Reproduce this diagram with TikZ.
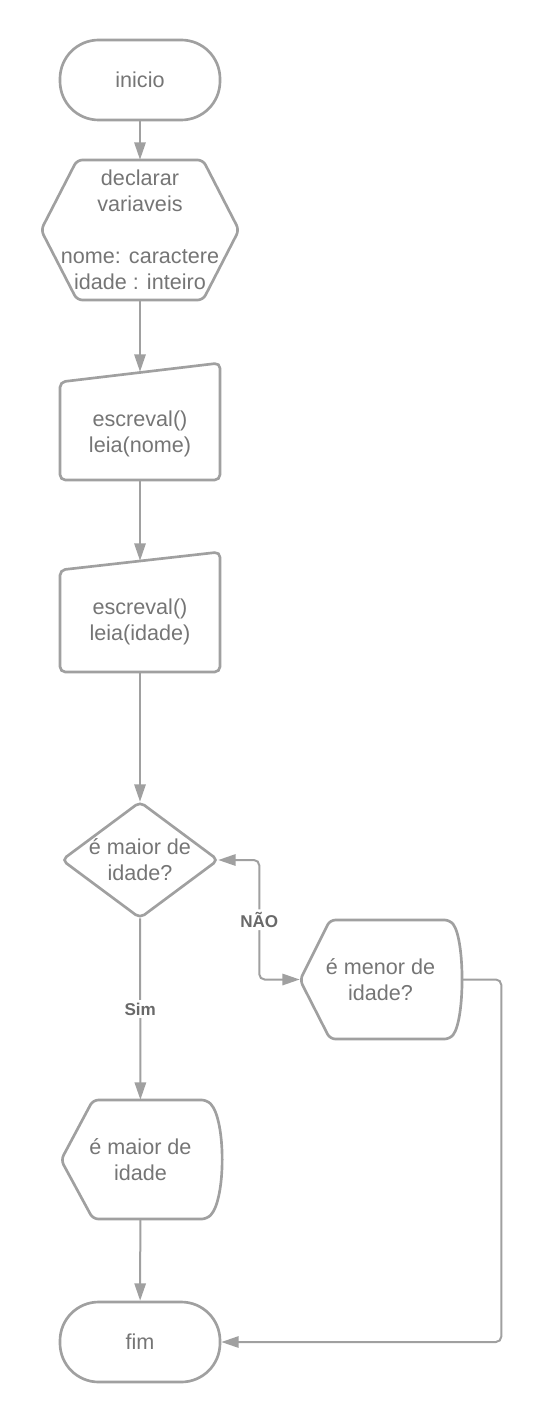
\documentclass[tikz,border=0pt]{standalone}
\usepackage{fontspec}
\setmainfont{Liberation Sans}
\usetikzlibrary{arrows.meta}
\definecolor{linegray}{RGB}{160,160,160}
\definecolor{txtgray}{RGB}{117,117,117}
\definecolor{lblgray}{RGB}{105,105,105}
\tikzset{
  >={Triangle[length=13pt,width=8.5pt]},
  box/.style={draw=none, text=txtgray, align=center, inner sep=0pt,
    font=\fontsize{16.2}{19.5}\selectfont},
  term/.style={box, draw=linegray, line width=2pt, minimum width=120pt,
    minimum height=60pt, rounded corners=29pt},
  outline/.style={draw=linegray, line width=2pt, rounded corners=4pt},
  flow/.style={draw=linegray, line width=1.5pt, rounded corners=4pt, ->},
  lbl/.style={fill=white, text=lblgray, inner sep=2pt,
    font=\fontsize{12.8}{14}\selectfont\bfseries}
}
\begin{document}
\begin{tikzpicture}[x=0.75pt, y=-0.75pt]
    \useasboundingbox (0,0) rectangle (542,1423);

    % shapes
    \draw[outline] (77,160) -- (203,160) -- (239,230) -- (203,300) -- (77,300) -- (41,230) -- cycle;
    \draw[outline] (60,382) -- (220,363) -- (220,480) -- (60,480) -- cycle;
    \draw[outline] (60,570) -- (220,552) -- (220,672) -- (60,672) -- cycle;
    \draw[outline] (140,802) -- (218,860) -- (140,918) -- (62,860) -- cycle;
    \draw[outline] (330,920) -- (450,920) .. controls (465,940) and (465,1019) .. (450,1039) -- (330,1039) -- (300,980) -- cycle;
    \draw[outline] (93,1100) -- (207,1100) .. controls (226,1120) and (226,1199) .. (207,1219) -- (93,1219) -- (61,1160) -- cycle;

    % nodes
    \node[term] (inicio) at (140,80) {inicio};
    \node[box, minimum width=148.5pt, minimum height=105pt] (decl) at (140,230)
        {declarar\\variaveis\\~\\nome: caractere\\idade : inteiro};
    \node[box, minimum width=120pt, minimum height=81pt] (leianome) at (140,426)
        {\rule{0pt}{24pt}escreval()\\leia(nome)};
    \node[box, minimum width=120pt, minimum height=83.25pt] (leiaidade) at (140,616.5)
        {\rule{0pt}{19.5pt}escreval()\\leia(idade)};
    \node[box, minimum width=117pt, minimum height=87pt] (testemaior) at (140,860)
        {é maior de\\idade?};
    \node[box, minimum width=120.75pt, minimum height=89.25pt] (testemenor) at (380.5,979.5)
        {é menor de\\idade?};
    \node[box, minimum width=120pt, minimum height=89.25pt] (saidamaior) at (140.5,1159.5)
        {é maior de\\idade};
    \node[term] (fim) at (140,1342) {fim};

    % connectors
    \draw[flow] (inicio) -- (decl);
    \draw[flow] (decl) -- (leianome);
    \draw[flow] (leianome) -- (leiaidade);
    \draw[flow] (leiaidade) -- (testemaior);
    \draw[flow] (testemaior) -- node[lbl] {Sim} (saidamaior);
    \draw[flow, <->] (testemaior.east) -- ++(41,0) |- node[lbl, pos=0.25] {NÃO} (testemenor.west);
    \draw[flow] (testemenor.east) -- ++(40,0) |- (fim);
    \draw[flow] (saidamaior) -- (fim);
\end{tikzpicture}
\end{document}
